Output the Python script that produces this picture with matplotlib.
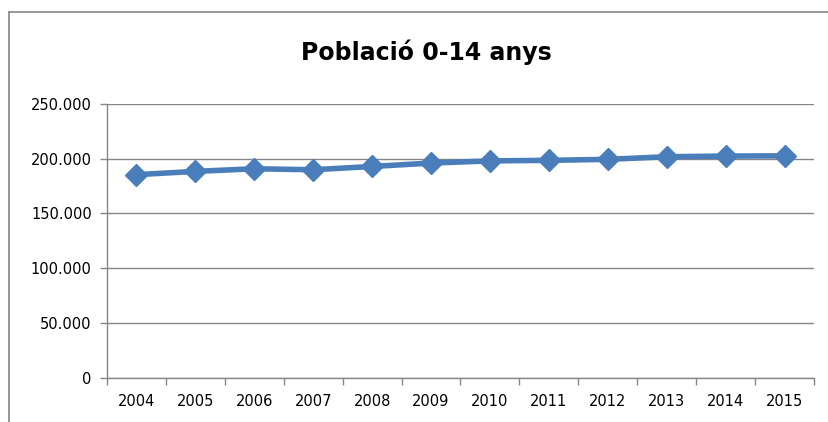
import numpy as np
import matplotlib.pyplot as plt
from matplotlib.lines import Line2D
from matplotlib.ticker import FuncFormatter

plt.rcParams['font.family'] = ['Liberation Sans Narrow', 'DejaVu Sans']

anys = ['2004', '2005', '2006', '2007', '2008', '2009',
        '2010', '2011', '2012', '2013', '2014', '2015']
poblacio = [185400, 188400, 190800, 189900, 192900, 196000,
            198000, 198500, 199400, 201800, 202400, 202600]

blau = '#4A7EBB'
gris = '#868686'

fig = plt.figure(figsize=(8.29, 4.22), dpi=100)
ax = fig.add_axes([107/829, 1 - 377.5/422, (814 - 107)/829, (377.5 - 104)/422])

x = np.arange(len(anys))
ax.plot(x, poblacio, color=blau, lw=4, marker='D', ms=11,
        markerfacecolor=blau, markeredgecolor=blau, zorder=3)

ax.set_ylim(0, 250000)
ax.set_yticks(np.arange(0, 250001, 50000))
ax.yaxis.set_major_formatter(FuncFormatter(lambda v, p: f'{int(v):,}'.replace(',', '.')))
ax.grid(axis='y', color=gris, lw=1)
ax.set_axisbelow(True)

ax.set_xlim(-0.5, len(anys) - 0.5)
ax.set_xticks(x)
ax.set_xticklabels(anys)
ax.set_xticks(np.arange(-0.5, len(anys), 1), minor=True)
ax.tick_params(axis='x', which='major', length=0, pad=12, labelsize=10.5)
ax.tick_params(axis='x', which='minor', length=5, color=gris, width=1)
ax.tick_params(axis='y', length=5, color=gris, width=1, pad=6, labelsize=10.5)

for s in ['top', 'right']:
    ax.spines[s].set_visible(False)
for s in ['left', 'bottom']:
    ax.spines[s].set_color(gris)
    ax.spines[s].set_linewidth(1)

fig.text(0.5 + 12/829, 1 - 52/422, 'Població 0-14 anys', ha='center', va='center',
         fontsize=17, fontweight='bold')

# marc del gràfic
fig.add_artist(Line2D([9/829, 9/829], [0, 1 - 12/422], transform=fig.transFigure,
                      color=gris, lw=1.2))
fig.add_artist(Line2D([9/829, 1], [1 - 12/422, 1 - 12/422], transform=fig.transFigure,
                      color=gris, lw=1.2))

fig.savefig('out.png', dpi=100)
